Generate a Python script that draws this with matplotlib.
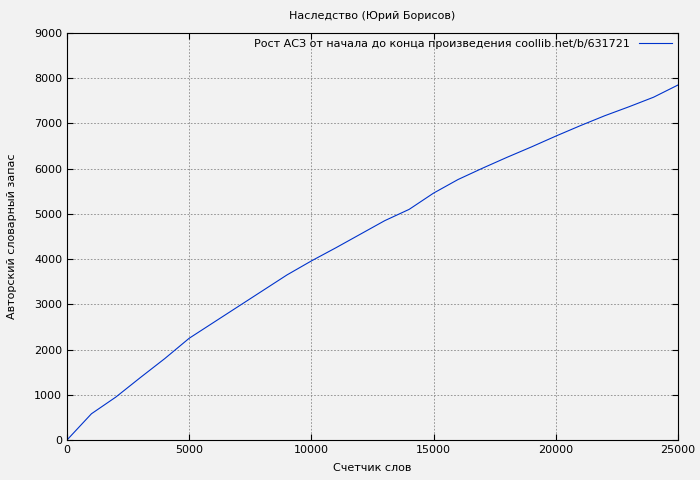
import matplotlib
matplotlib.use("Agg")
import matplotlib.pyplot as plt

words = [0, 1000, 2000, 3000, 4000, 5000, 6000, 7000, 8000, 9000, 10000, 11000, 12000,
         13000, 14000, 15000, 16000, 17000, 18000, 19000, 20000, 21000, 22000, 23000, 24000, 25000]
vocab = [0, 580, 950, 1380, 1800, 2250, 2600, 2950, 3300, 3650, 3960, 4250, 4550,
         4850, 5100, 5460, 5760, 6010, 6250, 6480, 6720, 6950, 7170, 7370, 7580, 7850]

plt.rcParams['font.family'] = ['DejaVu Sans']
plt.rcParams['font.size'] = 8
fig = plt.figure(figsize=(7, 4.8), dpi=100, facecolor='#f2f2f2')
ax = fig.add_axes([67/700, 40/480, 611/700, 407/480])
ax.set_facecolor('#f2f2f2')
ax.plot(words, vocab, color='#0033cc', lw=0.8,
        label='Рост АСЗ от начала до конца произведения coollib.net/b/631721')
ax.set_xlim(0, 25000)
ax.set_ylim(0, 9000)
ax.set_xticks(range(0, 25001, 5000))
ax.set_yticks(range(0, 9001, 1000))
ax.grid(True, color='#888888', linestyle=(0, (2, 2)), lw=0.6)
ax.tick_params(direction='in', length=4, top=True, right=True)
ax.set_title('Наследство (Юрий Борисов)', fontsize=8, pad=10)
ax.set_xlabel('Счетчик слов', labelpad=6)
ax.set_ylabel('Авторский словарный запас', labelpad=12)
leg = ax.legend(loc='upper right', frameon=False, markerfirst=False,
                handlelength=3, borderaxespad=0.1, fontsize=8)
fig.savefig('out.png', dpi=100, facecolor=fig.get_facecolor())
